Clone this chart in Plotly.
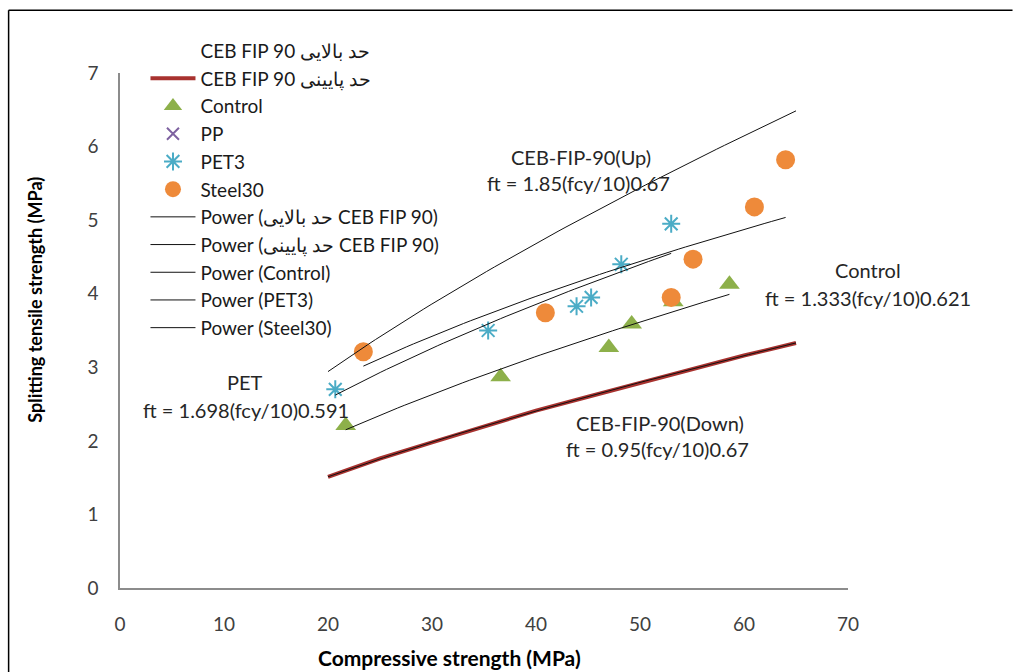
import numpy as np
import plotly.graph_objects as go

# ---- data ----
ceb_x = [20, 25, 30, 35, 40, 45, 50, 55, 60, 65]
ceb_up = [2.94, 3.42, 3.86, 4.28, 4.68, 5.07, 5.44, 5.80, 6.15, 6.48]
ceb_down = [1.51, 1.76, 1.98, 2.20, 2.41, 2.60, 2.79, 2.98, 3.16, 3.33]

control_x = [21.7, 36.6, 47.0, 49.2, 53.2, 58.6]
control_y = [2.21, 2.87, 3.27, 3.59, 3.89, 4.13]

pet3_x = [20.7, 35.4, 43.9, 45.3, 48.2, 53.0]
pet3_y = [2.70, 3.50, 3.83, 3.95, 4.40, 4.95]

steel_x = [23.4, 40.9, 53.0, 55.1, 61.0, 64.0]
steel_y = [3.21, 3.74, 3.95, 4.47, 5.18, 5.82]

name_up = "CEB FIP 90 حد بالایی"
name_down = "CEB FIP 90 حد پایینی"
pow_up = "Power (حد بالایی CEB FIP 90)"
pow_down = "Power (حد پایینی CEB FIP 90)"

x_ticks = [0, 10, 20, 30, 40, 50, 60, 70]
y_ticks = [0, 1, 2, 3, 4, 5, 6, 7]

FONT = "Lato"
GRP_GAP = 0


def power_trend(xs, ys, n=60):
    b, ln_a = np.polyfit(np.log(xs), np.log(ys), 1)
    xx = np.linspace(min(xs), max(xs), n)
    return xx, np.exp(ln_a) * xx ** b


fig = go.Figure()

# series
fig.add_trace(go.Scatter(x=ceb_x, y=ceb_up, mode="lines", name=name_up,
                         line=dict(width=0, color="rgba(0,0,0,0)"), legendgroup="g1"))
fig.add_trace(go.Scatter(x=ceb_x, y=ceb_down, mode="lines", name=name_down,
                         line=dict(width=4, color="#A8322F"), legendgroup="g2"))
fig.add_trace(go.Scatter(x=control_x, y=control_y, mode="markers", name="Control",
                         marker=dict(symbol="triangle-up", size=18, color="#8DB04A"), legendgroup="g3"))
fig.add_trace(go.Scatter(x=[None], y=[None], mode="markers", name="PP",
                         marker=dict(symbol="x-thin-open", size=12, color="#7F63A1",
                                     line=dict(width=2, color="#7F63A1")), legendgroup="g4"))
fig.add_trace(go.Scatter(x=pet3_x, y=pet3_y, mode="markers", name="PET3",
                         marker=dict(symbol="asterisk-open", size=15, color="#4BACC6",
                                     line=dict(width=2, color="#4BACC6")), legendgroup="g5"))
fig.add_trace(go.Scatter(x=steel_x, y=steel_y, mode="markers", name="Steel30",
                         marker=dict(symbol="circle", size=19, color="#EE8A3A"), legendgroup="g6"))

# power trendlines
for i, (nm, xs, ys) in enumerate([(pow_up, ceb_x, ceb_up), (pow_down, ceb_x, ceb_down),
                                   ("Power (Control)", control_x, control_y),
                                   ("Power (PET3)", pet3_x, pet3_y),
                                   ("Power (Steel30)", steel_x, steel_y)]):
    xx, yy = power_trend(xs, ys)
    fig.add_trace(go.Scatter(x=xx, y=yy, mode="lines", name=nm,
                             line=dict(width=1, color="#111111"), legendgroup="t%d" % i))

ann_font = dict(family=FONT, size=20, color="#262626")
annotations = [
    dict(x=0.633, y=0.837, text="CEB-FIP-90(Up)"),
    dict(x=0.630, y=0.786, text="ft = 1.85(fcy/10)0.67"),
    dict(x=1.027, y=0.617, text="Control"),
    dict(x=1.027, y=0.563, text="ft = 1.333(fcy/10)0.621"),
    dict(x=0.172, y=0.400, text="PET"),
    dict(x=0.173, y=0.346, text="ft = 1.698(fcy/10)0.591"),
    dict(x=0.742, y=0.320, text="CEB-FIP-90(Down)"),
    dict(x=0.738, y=0.270, text="ft = 0.95(fcy/10)0.67"),
]
for a in annotations:
    a.update(xref="paper", yref="paper", showarrow=False, font=ann_font,
             xanchor="center", yanchor="middle")

annotations.append(dict(xref="paper", yref="paper", x=0.452, y=-0.134,
                        text="<b>Compressive strength (MPa)</b>", showarrow=False,
                        font=dict(family=FONT, size=21, color="#000"),
                        xanchor="center", yanchor="middle"))
annotations.append(dict(xref="paper", yref="paper", x=-0.116, y=0.559,
                        text="<b>Splitting tensile strength (MPa)</b>", showarrow=False,
                        textangle=-90, font=dict(family=FONT, size=18, color="#000"),
                        xanchor="center", yanchor="middle"))

fig.update_layout(
    width=1027, height=672,
    margin=dict(l=120, r=179, t=73, b=84),
    paper_bgcolor="white", plot_bgcolor="white",
    font=dict(family=FONT, size=16, color="#000"),
    annotations=annotations,
    showlegend=True,
    legend=dict(x=0.035, y=1.08, xanchor="left", yanchor="top", maxheight=600,
                bgcolor="rgba(0,0,0,0)", itemwidth=45, tracegroupgap=GRP_GAP,
                font=dict(family=FONT, size=19, color="#1a1a1a")),
    shapes=[
        dict(type="line", xref="paper", yref="paper", x0=-0.153, x1=1.226, y0=1.122, y1=1.122,
             line=dict(color="#000", width=1.5)),
        dict(type="line", xref="paper", yref="paper", x0=-0.153, x1=-0.153, y0=1.122, y1=-0.2,
             line=dict(color="#000", width=1.5)),
    ],
)
fig.update_xaxes(range=[0, 70], tickvals=x_ticks, ticks="", showgrid=False, zeroline=False,
                 showline=True, linecolor="#8C8C8C", linewidth=1.5,
                 tickfont=dict(family=FONT, size=19, color="#404040"), ticklabelstandoff=18)
fig.update_yaxes(range=[0, 7], tickvals=y_ticks, ticks="", showgrid=False, zeroline=False,
                 showline=True, linecolor="#8C8C8C", linewidth=1.5,
                 tickfont=dict(family=FONT, size=19, color="#404040"), ticklabelstandoff=16)

fig.write_html("out.html")
